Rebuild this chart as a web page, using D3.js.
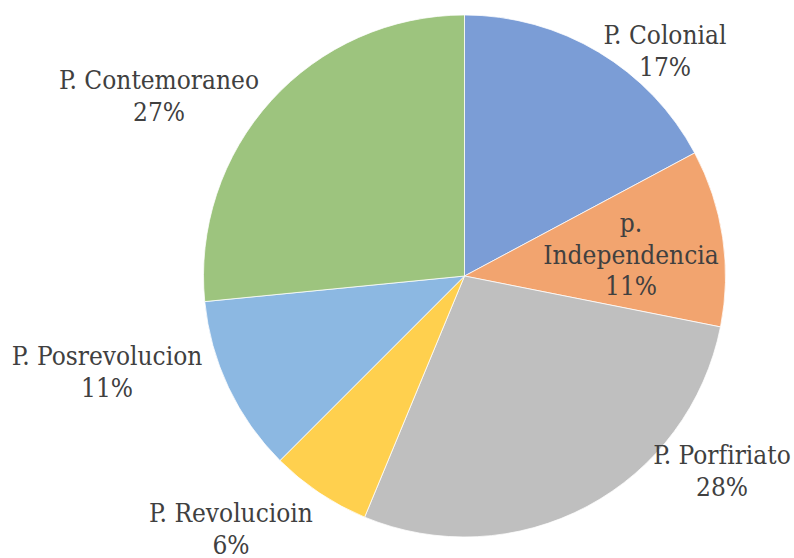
<!DOCTYPE html>
<html lang="es">
  <head>
    <meta charset="UTF-8" />
    <title>Periodos</title>
    <script src="https://d3js.org/d3.v7.min.js"></script>
    <style>
      html, body { margin: 0; padding: 0; background: #fff; }
      .label { font-family: "DejaVu Serif Condensed", "DejaVu Serif", serif; font-stretch: condensed; }
    </style>
  </head>
  <body>
    <div id="chart"></div>
    <script>
      // datos (conteos por periodo)
      const categories = [
        "P. Colonial",
        "p. Independencia",
        "P. Porfiriato",
        "P. Revolucioin",
        "P. Posrevolucion",
        "P. Contemoraneo",
      ];
      const counts = [11, 7, 18, 4, 7, 17];
      const colors = ["#7b9dd6", "#f2a46f", "#bfbfbf", "#ffd04e", "#8cb8e2", "#9dc47e"];

      // cómo se parte cada etiqueta en líneas
      const labelLines = [
        ["P. Colonial"],
        ["p.", "Independencia"],
        ["P. Porfiriato"],
        ["P. Revolucioin"],
        ["P. Posrevolucion"],
        ["P. Contemoraneo"],
      ];
      // posición de cada etiqueta (centro x, primera línea base y)
      const labelAt = [
        [665, 44],
        [631, 232],
        [722, 464],
        [231, 522],
        [107, 365],
        [159, 89],
      ];

      const width = 794;
      const height = 558;
      const cx = 464.5;
      const cy = 276;
      const radius = 261;
      const lineH = 31.5;

      const svg = d3
        .select("#chart")
        .append("svg")
        .attr("width", width)
        .attr("height", height);

      const total = d3.sum(counts);
      const pie = d3.pie().sort(null).value((d) => d);
      const arc = d3.arc().innerRadius(0).outerRadius(radius);

      const g = svg.append("g").attr("transform", `translate(${cx},${cy})`);

      g.selectAll("path")
        .data(pie(counts))
        .enter()
        .append("path")
        .attr("d", arc)
        .attr("fill", (d, i) => colors[i])
        .attr("stroke", "#fff")
        .attr("stroke-width", 0.75);

      const labels = svg
        .selectAll(".label")
        .data(categories)
        .enter()
        .append("text")
        .attr("class", "label")
        .attr("text-anchor", "middle")
        .attr("font-size", 26)
        .attr("fill", "#404040");

      labels.each(function (d, i) {
        const t = d3.select(this);
        const lines = labelLines[i].concat([Math.round((counts[i] / total) * 100) + "%"]);
        lines.forEach((s, k) => {
          t.append("tspan")
            .attr("x", labelAt[i][0])
            .attr("y", labelAt[i][1] + k * lineH)
            .text(s);
        });
      });
    </script>
  </body>
</html>
